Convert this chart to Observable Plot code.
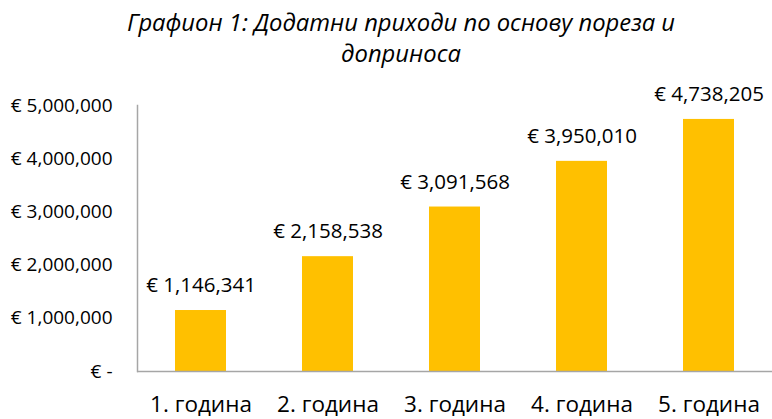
<!DOCTYPE html>
<html>
<head>
<meta charset="utf-8">
<script src="https://cdn.jsdelivr.net/npm/d3@7"></script>
<script src="https://cdn.jsdelivr.net/npm/@observablehq/plot@0.6"></script>
<style>
  body { margin: 0; background: #fff; font-family: "Open Sans", sans-serif; }
  #title { width: 772px; height: 75px; text-align: center; font-style: italic; font-size: 23.8px; line-height: 31px; padding-top: 7px; box-sizing: border-box; color: #000; padding-left: 30px; overflow: hidden; }
</style>
</head>
<body>
<div id="title">Графион 1: Додатни приходи по основу пореза и<br>доприноса</div>
<div id="chart"></div>
<script>
const categories = ["1. година", "2. година", "3. година", "4. година", "5. година"];
const values = [1146341, 2158538, 3091568, 3950010, 4738205];
const yTicks = [0, 1000000, 2000000, 3000000, 4000000, 5000000];

const data = categories.map((c, i) => ({category: c, value: values[i]}));
const fmt = v => v === 0 ? "€ -" : "€ " + d3.format(",")(v);

const chart = Plot.plot({
  width: 772,
  height: 344,
  marginLeft: 137,
  marginRight: 0,
  marginTop: 30,
  marginBottom: 48,
  style: {fontFamily: "Open Sans, sans-serif", fontSize: "19px", color: "#000", background: "#fff"},
  x: {domain: categories, paddingInner: 0.6, paddingOuter: 0.3, label: null},
  y: {domain: [0, 5000000], label: null},
  marks: [
    Plot.barY(data, {x: "category", y: "value", fill: "#FFC000"}),
    Plot.axisX({tickSize: 0, tickPadding: 25, fontSize: 22.5, label: null}),
    Plot.axisY(yTicks, {tickSize: 0, tickPadding: 25, tickFormat: fmt, fontSize: 19, label: null}),
    Plot.frame({anchor: "left", stroke: "#a6a6a6", strokeWidth: 1.5}),
    Plot.ruleY([0], {stroke: "#a6a6a6", strokeWidth: 1.5}),
    Plot.text(data, {x: "category", y: "value", text: d => fmt(d.value), dy: -25, fontSize: 20.5, fill: "#000"})
  ]
});
document.getElementById("chart").appendChild(chart);
</script>
</body>
</html>
